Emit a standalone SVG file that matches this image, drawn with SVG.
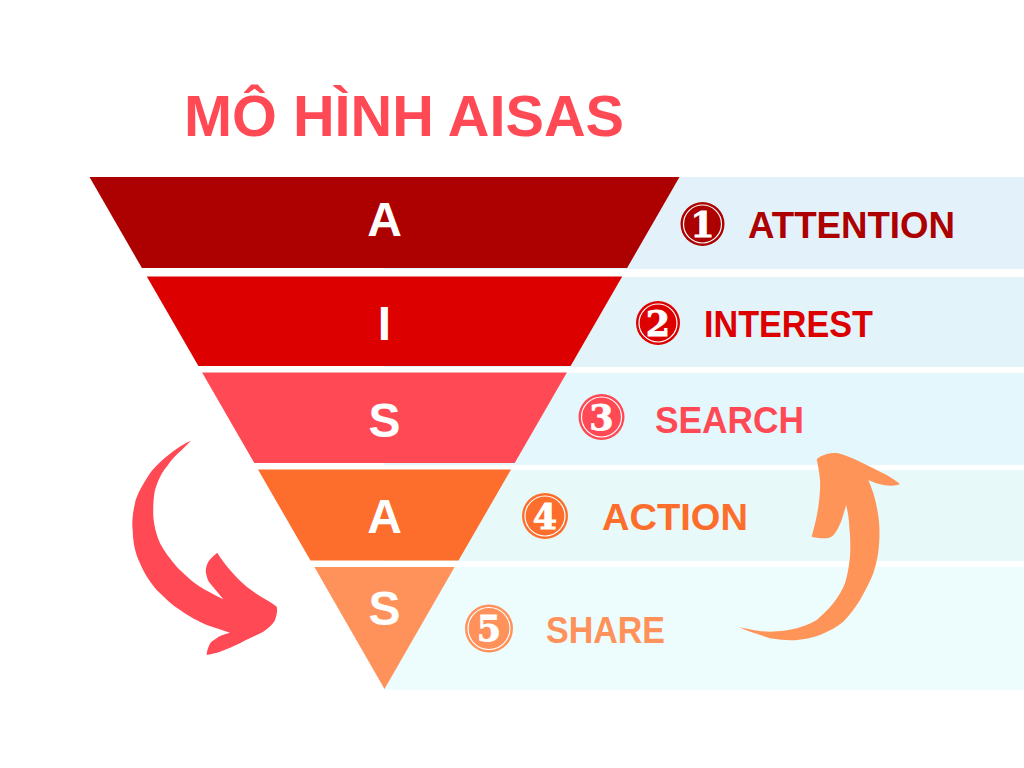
<svg xmlns="http://www.w3.org/2000/svg" width="1024" height="768" viewBox="0 0 1024 768">
<style>
.letter{font-family:"Liberation Sans",Arial,sans-serif;font-weight:bold;font-size:48px;fill:#fff;text-anchor:middle}
.label{font-family:"Liberation Sans",Arial,sans-serif;font-weight:bold;font-size:36px}
.num{font-family:"DejaVu Serif","Liberation Serif",serif;font-weight:bold;font-size:35px;fill:#fff;stroke:#fff;stroke-width:0.8;text-anchor:middle}
.ring{fill:none;stroke:#fff;stroke-width:1.2}
.title{font-family:"Liberation Sans",Arial,sans-serif;font-weight:bold;font-size:57px;fill:#FF4A55}
</style>
<rect width="1024" height="768" fill="#fff"/>
<text class="title" x="184" y="135.5" textLength="440" lengthAdjust="spacingAndGlyphs">MÔ HÌNH AISAS</text>
<g id="panels">
<rect x="384" y="177" width="640" height="92" fill="#E3F2FA"/>
<rect x="384" y="277" width="640" height="90" fill="#E3F3FA"/>
<rect x="384" y="373" width="640" height="92" fill="#E4F7FC"/>
<rect x="384" y="470" width="640" height="91" fill="#E7F9F9"/>
<rect x="384" y="567" width="640" height="123" fill="#EDFCFC"/>
</g>
<g id="attention">
<polygon points="89.5,177 679.5,177 627.1,268 141.9,268" fill="#AD0000"/>
<text class="letter" x="384.5" y="236">A</text>
<circle cx="702.5" cy="224" r="22" fill="#AD0000"/>
<circle class="ring" cx="702.5" cy="224" r="19"/>
<text class="num" x="702.5" y="236.5">1</text>
<text class="label" x="748" y="238" fill="#AD0000" textLength="207" lengthAdjust="spacingAndGlyphs">ATTENTION</text>
</g>
<g id="interest">
<polygon points="146.8,276.5 622.2,276.5 570.6,366 198.4,366" fill="#DC0000"/>
<text class="letter" x="384.5" y="340">I</text>
<circle cx="658" cy="323" r="22" fill="#DC0000"/>
<circle class="ring" cx="658" cy="323" r="19"/>
<text class="num" x="658" y="335.5">2</text>
<text class="label" x="704" y="337" fill="#DC0000" textLength="169" lengthAdjust="spacingAndGlyphs">INTEREST</text>
</g>
<g id="search">
<polygon points="202.1,372.5 566.9,372.5 514.7,463 254.3,463" fill="#FF4A55"/>
<text class="letter" x="384.5" y="437">S</text>
<circle cx="601.5" cy="417" r="23" fill="#FF4A55"/>
<circle class="ring" cx="601.5" cy="417" r="20"/>
<text class="num" x="601.5" y="429.5">3</text>
<text class="label" x="655" y="433" fill="#FF4A55" textLength="149" lengthAdjust="spacingAndGlyphs">SEARCH</text>
</g>
<g id="action">
<polygon points="258,469.5 511,469.5 458.5,560.5 310.5,560.5" fill="#FD6D2B"/>
<text class="letter" x="384.5" y="533">A</text>
<circle cx="545" cy="516" r="23" fill="#FD6D2B"/>
<circle class="ring" cx="545" cy="516" r="20"/>
<text class="num" x="545" y="528.5">4</text>
<text class="label" x="602" y="530" fill="#FD6D2B" textLength="146" lengthAdjust="spacingAndGlyphs">ACTION</text>
</g>
<g id="share">
<polygon points="314.4,567 454.6,567 384.5,689" fill="#FF925B"/>
<text class="letter" x="384.5" y="625">S</text>
<circle cx="489" cy="628.5" r="24" fill="#FF925B"/>
<circle class="ring" cx="489" cy="628.5" r="21"/>
<text class="num" x="489" y="641">5</text>
<text class="label" x="546" y="643" fill="#FF925B" textLength="119" lengthAdjust="spacingAndGlyphs">SHARE</text>
</g>
<g id="arrows">
<path fill="#FF4A56" d="M191,440.7 C180,445 160,460 150,473.3 C140,488 135,500 135,503.3 C132,515 132,525 132.7,530 C133,545 136,555 140,563.3 C145,575 150,582 156.7,590 C165,598 172,605 180,610 C190,617 198,621 206.7,625 L230,632.7 C222,635 219,636 216.7,638.3 C212,641 210,643 209.3,645 C207,650 206.7,653 206.7,655 C212,654 216,653 220,651.7 C228,649 234,646 240,643.3 C250,638 257,635 263.3,631.7 C270,627 273,624 275,620 C277,615 277.5,610 276.7,606.7 C273,604 270,602 266.7,600 C258,595 252,591 246.7,586.7 C240,581 235,576 230,570 C225,564 221,559 217.3,552.7 C213,556 210,559 208.3,561.7 C206,566 205.5,570 206,573.3 C207,578 208,581 210,583.3 L223.3,599.3 C215,595 207,591 200,586.7 C190,580 183,573 176.7,566.7 C170,559 164,551 160,543.3 C156,534 154,525 153.3,516.7 C153,506 153.5,497 155,490 C158,480 162,472 166.7,466.7 C171,460 176,455 181.7,450 Z"/>
<path fill="#FF9459" d="M739.3,627.3 C750,632 760,635 770,638.3 C780,640 790,640.5 796.7,640 C805,639.5 813,637.5 820,635 C829,631 837,627 843.3,621.7 C850,615 855,608 860,600 C865,591 870,582 873.3,573.3 C877,562 879,551 879.3,540 C880,528 879,517 876.7,506.7 C875,497 872,489 868.3,480 C873,482 878,484 883.3,485 C890,486 896,486 900,484 C894,479 887,475 880,471.7 C873,468 866,464.5 860,461.7 C852,458 845,455 838.3,453.3 C834,452.5 830,453 826.7,454 C822,455.5 819,457 816.7,459.3 C818,466 819.5,473 820,480 C820.5,489 819.5,498 818.3,506.7 C817,517 814,528 811.7,536.7 C817,538 822,538.5 826.7,538.3 C830,538 833,536 835,533.3 C838,529 840,524 841.7,520 C843,515 845,510 846,505 C848,512 849,519 849.3,526.7 C850.5,537 850.5,547 850,556.7 C849,566 847.5,575 845,583.3 C842,591 838,597 833.3,603.3 C828,610 822,615 816.7,620 C810,624 803,626.5 796.7,628.3 C788,630.5 779,631.5 770,631.7 C764,631.5 758,631 753.3,630 Z"/>
</g>
</svg>
